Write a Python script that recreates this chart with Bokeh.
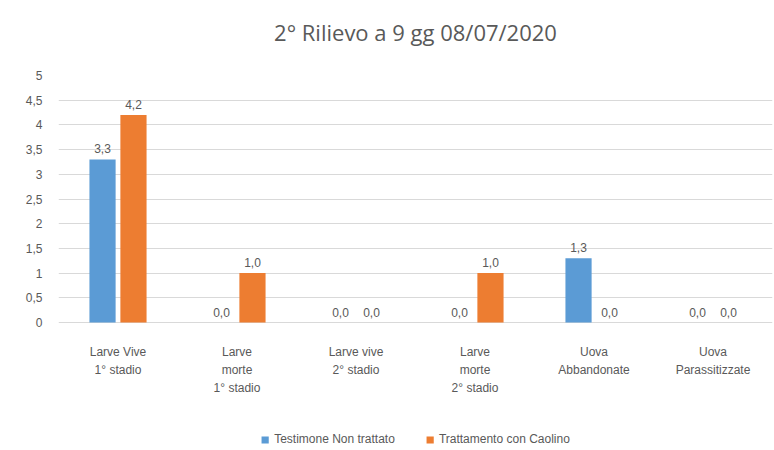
from bokeh.plotting import figure
from bokeh.models import ColumnDataSource, FixedTicker, Legend, LegendItem, Range1d, FactorRange, Title
from bokeh.transform import dodge
from bokeh.core.properties import value
from bokeh.embed import file_html
from bokeh.resources import INLINE

title = "2° Rilievo a 9 gg 08/07/2020"
categories = ["Larve Vive\n1° stadio", "Larve\nmorte\n1° stadio", "Larve vive\n2° stadio",
              "Larve\nmorte\n2° stadio", "Uova\nAbbandonate", "Uova\nParassitizzate"]
series_names = ["Testimone Non trattato", "Trattamento con Caolino"]
series_a = [3.3, 0.0, 0.0, 0.0, 1.3, 0.0]
series_b = [4.2, 1.0, 0.0, 1.0, 0.0, 0.0]
y_ticks = [0, 0.5, 1, 1.5, 2, 2.5, 3, 3.5, 4, 4.5, 5]
y_tick_labels = ["0", "0,5", "1", "1,5", "2", "2,5", "3", "3,5", "4", "4,5", "5"]

BLUE = "#5B9BD5"
ORANGE = "#ED7D31"
GRAY = "#595959"
FONT = "Liberation Sans"

def fmt(v):
    return ("%.1f" % v).replace(".", ",")

src = ColumnDataSource(dict(
    cat=categories,
    a=series_a, b=series_b,
    la=[fmt(v) for v in series_a], lb=[fmt(v) for v in series_b],
    zero=[0] * len(categories),
))

# frame covers value area (0..5, 247 px) plus the category/legend area below it
FRAME_H = 375
PX_PER_UNIT = 247 / 5
y_bottom = 5 - FRAME_H / PX_PER_UNIT

p = figure(frame_width=714, frame_height=FRAME_H, x_range=FactorRange(*categories, range_padding=0),
           y_range=Range1d(y_bottom, 5), output_backend="svg", toolbar_location=None,
           min_border_left=58, min_border_right=2, min_border_top=75, min_border_bottom=0)
p.add_layout(Title(text=" ", text_font_size="20px", standoff=0), "above")
p.add_layout(Title(text=title, align="center", text_font="Open Sans", text_font_size="22px",
                   text_font_style="normal", text_color=GRAY), "above")
p.outline_line_color = None
p.background_fill_color = "white"

p.xgrid.grid_line_color = None
p.ygrid.grid_line_color = "#D9D9D9"
p.ygrid.ticker = FixedTicker(ticks=y_ticks)

p.yaxis.ticker = FixedTicker(ticks=y_ticks)
p.yaxis.major_label_overrides = {t: l for t, l in zip(y_ticks, y_tick_labels)}
p.yaxis.axis_line_color = None
p.yaxis.major_tick_line_color = None
p.yaxis.minor_tick_line_color = None
p.yaxis.major_label_text_font = FONT
p.yaxis.major_label_text_font_size = "12px"
p.yaxis.major_label_text_color = GRAY
p.yaxis.major_label_standoff = 10

p.xaxis.visible = False

ra = p.vbar(x=dodge("cat", -0.13, range=p.x_range), top="a", width=0.22, source=src,
            fill_color=BLUE, line_color=None)
rb = p.vbar(x=dodge("cat", 0.13, range=p.x_range), top="b", width=0.22, source=src,
            fill_color=ORANGE, line_color=None)

for col, lab, off in (("a", "la", -0.13), ("b", "lb", 0.13)):
    p.text(x=dodge("cat", off, range=p.x_range), y=col, text=lab, source=src,
           text_align="center", text_baseline="bottom", y_offset=-6,
           text_font=value(FONT), text_font_size="12px", text_color=GRAY)

# category labels under the baseline
p.text(x="cat", y="zero", text="cat", source=src, text_align="center", text_baseline="top",
       y_offset=22, text_line_height=1.3,
       text_font=value(FONT), text_font_size="12px", text_color=GRAY)

legend = Legend(items=[LegendItem(label=series_names[0], renderers=[ra]),
                       LegendItem(label=series_names[1], renderers=[rb])],
                orientation="horizontal", location="bottom_center",
                label_text_font=FONT, label_text_font_size="12px", label_text_color=GRAY,
                glyph_width=9, glyph_height=9, spacing=30, border_line_color=None,
                background_fill_alpha=0, margin=4, padding=2)
p.add_layout(legend)

open("out.html", "w").write(file_html(p, INLINE))
